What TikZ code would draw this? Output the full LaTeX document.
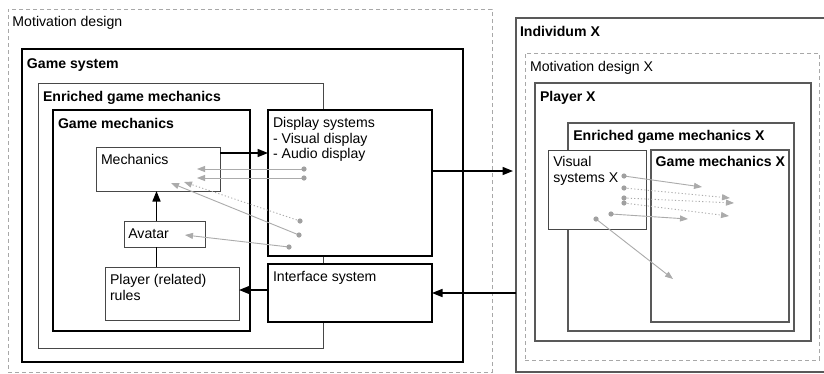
\documentclass[tikz,border=0pt]{standalone}
\usepackage{fontspec}
\setmainfont{Liberation Sans}
\usetikzlibrary{arrows.meta,fit}
\definecolor{dotgray}{HTML}{A0A0A0}
\definecolor{linegray}{HTML}{ABABAB}
\definecolor{dashgray}{HTML}{A8A8A8}
\begin{document}
\begin{tikzpicture}[x=1pt,y=-1pt,
 every node/.style={inner sep=0pt, outer sep=0pt},
 txt/.style={anchor=base west, font=\fontsize{14.1}{15.5}\selectfont},
 bld/.style={anchor=base west, font=\fontsize{14.1}{15.5}\selectfont\bfseries},
 heavy/.style={draw=black, line width=1.6pt},
 thinbox/.style={draw=black!72, line width=0.9pt},
 midbox/.style={draw=black!65, line width=1.2pt},
 dashbox/.style={draw=dashgray, line width=0.9pt, dash pattern=on 4pt off 3pt},
 blk/.style={draw=black, line width=1.6pt, -{Triangle[length=10.5pt,width=8pt]}},
 blkline/.style={draw=black, line width=1.6pt},
 garrow/.style={draw=linegray, line width=0.9pt, -{Triangle[length=8pt,width=6pt]}},
 gdot/.style={garrow, dash pattern=on 1.2pt off 2.2pt},
 gd/.style={fill=dotgray},
]
\clip (0,0) rectangle (824,373);
\fill[white] (0,0) rectangle (824,373);

% ---------- left side ----------
\node[dashbox, fit={(8,9) (492,372)}] (md) {};
\node[txt] (mdl) at (12.5,26.5) {Motivation design};
\node[heavy, fit={(22,49) (463,362)}] (gs) {};
\node[bld] (gsl) at (27,68.3) {Game system};
\node[thinbox, fit={(38,83) (323,348)}] (egm) {};
\node[bld] (egml) at (43,101.7) {Enriched game mechanics};
\node[heavy, fit={(53,110) (250,331)}] (gm) {};
\node[bld] (gml) at (58,128.3) {Game mechanics};
\node[heavy, fill=white, fit={(268,110) (432,256)}] (disp) {};
\node[txt] (disp1) at (273,127.7) {Display systems};
\node[txt] (disp2) at (273,143.2) {- Visual display};
\node[txt] (disp3) at (273,158.7) {- Audio display};
\node[heavy, fill=white, fit={(268,264) (432,322)}] (intf) {};
\node[txt] (intfl) at (273,281.7) {Interface system};
\node[thinbox, fit={(96,147) (220,191)}] (mech) {};
\node[txt] (mechl) at (101,164.3) {Mechanics};
\node[thinbox, fit={(124,221) (205,247)}] (avatar) {};
\node[txt] (avl) at (128.3,238.3) {Avatar};
\node[thinbox, fit={(105,267) (239,320)}] (prr) {};
\node[txt] (prr1) at (110,284) {Player (related)};
\node[txt] (prr2) at (110,300) {rules};

% ---------- right side ----------
\node[midbox, fit={(516,18) (850,372)}] (ind) {};
\node[bld] (indl) at (520,36) {Individum X};
\node[dashbox, fit={(525,53) (819,360)}] (mdx) {};
\node[txt] (mdxl) at (530,71.7) {Motivation design X};
\node[midbox, fit={(535,83) (811,341)}] (px) {};
\node[bld] (pxl) at (540,101.7) {Player X};
\node[midbox, fit={(568,123) (794,331)}] (egmx) {};
\node[bld] (egmxl) at (573.3,140) {Enriched game mechanics X};
\node[midbox, fit={(651,150) (789,322)}] (gmx) {};
\node[bld] (gmxl) at (655.7,166.7) {Game mechanics X};
\node[thinbox, fill=white, fit={(548,150) (646,229)}] (vsx) {};
\node[txt] (vsx1) at (553.3,166.7) {Visual};
\node[txt] (vsx2) at (553.3,182.3) {systems X};

% ---------- black connectors ----------
\coordinate (ya) at (0,153);
\coordinate (xa) at (156.5,0);
\coordinate (yb) at (0,290);
\coordinate (yc) at (0,171);
\coordinate (yd) at (0,293);
\draw[blk] (mech.east |- ya) -- (disp.west |- ya);
\draw[blk] (avatar.north -| xa) -- (mech.south -| xa);
\draw[blkline] (prr.north -| xa) -- (avatar.south -| xa);
\draw[blk] (intf.west |- yb) -- (prr.east |- yb);
\draw[blk, shorten >=3pt] (disp.east |- yc) -- (ind.west |- yc);
\draw[blk] (ind.west |- yd) -- (intf.east |- yd);

% ---------- gray connectors (left) ----------
\coordinate (g1s) at (304,169); \coordinate (g1e) at (197,169);
\coordinate (g2s) at (304,178); \coordinate (g2e) at (197,178);
\coordinate (g3s) at (300,221); \coordinate (g3e) at (184,182);
\coordinate (g4s) at (299,235); \coordinate (g4e) at (171,183);
\coordinate (g5s) at (289,247); \coordinate (g5e) at (185,235);
\draw[garrow] (g1s) -- (g1e);
\draw[garrow] (g2s) -- (g2e);
\draw[gdot] (g3s) -- (g3e);
\draw[garrow] (g4s) -- (g4e);
\draw[garrow] (g5s) -- (g5e);
\foreach \p in {g1s,g2s,g3s,g4s,g5s} \fill[gd] (\p) circle[radius=2.6pt];

% ---------- gray connectors (right) ----------
\coordinate (h1s) at (624,176); \coordinate (h1e) at (702,187);
\coordinate (h2s) at (624,188); \coordinate (h2e) at (730,198);
\coordinate (h3s) at (624,198); \coordinate (h3e) at (734,203);
\coordinate (h4s) at (624,203); \coordinate (h4e) at (729,216);
\coordinate (h5s) at (611,214); \coordinate (h5e) at (688,219);
\coordinate (h6s) at (596,219); \coordinate (h6e) at (673,279);
\draw[garrow] (h1s) -- (h1e);
\draw[gdot] (h2s) -- (h2e);
\draw[gdot] (h3s) -- (h3e);
\draw[gdot] (h4s) -- (h4e);
\draw[garrow] (h5s) -- (h5e);
\draw[garrow] (h6s) -- (h6e);
\foreach \p in {h1s,h2s,h3s,h4s,h5s,h6s} \fill[gd] (\p) circle[radius=2.6pt];
\end{tikzpicture}
\end{document}
